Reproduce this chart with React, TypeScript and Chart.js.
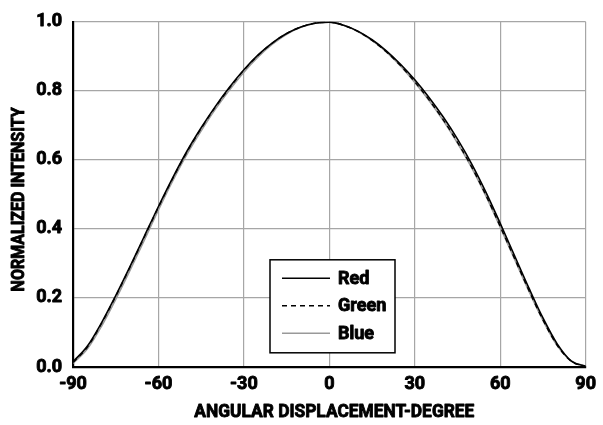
import React, { useEffect, useRef } from 'react';
import { Chart, registerables } from 'chart.js';

Chart.register(...registerables);

const FONT = "Roboto, 'Liberation Sans', sans-serif";
const WEIGHT = 'bold';

const angles = [
  -90, -85, -80, -75, -70, -65, -60, -55, -50, -45, -40, -35, -30, -25, -20, -15, -10, -5,
  0, 5, 10, 15, 20, 25, 30, 35, 40, 45, 50, 55, 60, 65, 70, 75, 80, 85, 90,
];

const red = [
  0.015, 0.06, 0.128, 0.207, 0.291, 0.378, 0.465, 0.548, 0.625, 0.693, 0.755, 0.811, 0.861, 0.904, 0.939, 0.966, 0.985, 0.996,
  0.999, 0.99, 0.973, 0.948, 0.916, 0.877, 0.832, 0.781, 0.724, 0.66, 0.588, 0.506, 0.416, 0.323, 0.23, 0.142, 0.067, 0.017, 0.002,
];

const green = [
  0.013, 0.057, 0.126, 0.205, 0.289, 0.376, 0.463, 0.546, 0.623, 0.691, 0.753, 0.809, 0.86, 0.903, 0.938, 0.966, 0.985, 0.996,
  0.999, 0.99, 0.972, 0.946, 0.913, 0.873, 0.826, 0.774, 0.716, 0.651, 0.579, 0.497, 0.407, 0.315, 0.223, 0.136, 0.063, 0.016, 0.002,
];

const blue = [
  0.011, 0.052, 0.118, 0.196, 0.28, 0.367, 0.455, 0.539, 0.616, 0.684, 0.747, 0.803, 0.854, 0.898, 0.935, 0.964, 0.984, 0.996,
  0.999, 0.99, 0.972, 0.946, 0.913, 0.872, 0.824, 0.772, 0.714, 0.649, 0.577, 0.495, 0.405, 0.313, 0.221, 0.135, 0.062, 0.017, 0.003,
];

const seriesLabels = ['Red', 'Green', 'Blue'];
const xTicks = [-90, -60, -30, 0, 30, 60, 90];
const yTicks = [0, 0.2, 0.4, 0.6, 0.8, 1.0];
const xTitle = 'ANGULAR DISPLACEMENT-DEGREE';
const yTitle = 'NORMALIZED INTENSITY';

// condensed widths and small shifts for the axis titles (the reference uses a condensed face)
const titleWidths: Record<string, number> = { [xTitle]: 280, [yTitle]: 184 };
const titleShift: Record<string, number> = { [xTitle]: 5, [yTitle]: -5 };

const toPoints = (vals: number[]) => vals.map((v, i) => ({ x: angles[i], y: v }));

// makes all text heavier (stroke on top of fill) and condenses the axis titles
const heavyText = {
  id: 'heavyText',
  beforeDraw(chart: any) {
    const ctx = chart.ctx;
    if (ctx.__origFillText) return;
    const orig = ctx.fillText;
    ctx.__origFillText = orig;
    ctx.fillText = function (text: string, x: number, y: number, mw?: number) {
      const lim = titleWidths[text];
      let w = mw;
      if (lim !== undefined) w = mw !== undefined ? Math.min(lim, mw) : lim;
      const dx = titleShift[text] || 0;
      const lw = this.lineWidth;
      const ss = this.strokeStyle;
      const dash = this.getLineDash();
      this.setLineDash([]);
      this.lineWidth = 0.9;
      this.strokeStyle = this.fillStyle;
      this.lineJoin = 'round';
      if (w !== undefined) {
        orig.call(this, text, x + dx, y, w);
        this.strokeText(text, x + dx, y, w);
      } else {
        orig.call(this, text, x + dx, y);
        this.strokeText(text, x + dx, y);
      }
      this.lineWidth = lw;
      this.strokeStyle = ss;
      this.setLineDash(dash);
    };
  },
  afterDraw(chart: any) {
    const ctx = chart.ctx;
    if (ctx.__origFillText) {
      ctx.fillText = ctx.__origFillText;
      delete ctx.__origFillText;
    }
  },
};

const boxLegend = {
  id: 'boxLegend',
  afterDraw(chart: any) {
    const { ctx, chartArea } = chart;
    const left = chartArea.left + 197;
    const top = chartArea.top + 238;
    const w = 125;
    const h = 93;
    ctx.save();
    ctx.fillStyle = '#ffffff';
    ctx.fillRect(left, top, w, h);
    ctx.strokeStyle = '#000000';
    ctx.lineWidth = 1.5;
    ctx.setLineDash([]);
    ctx.strokeRect(left, top, w, h);
    chart.data.datasets.forEach((ds: any, i: number) => {
      const y = top + 18.5 + i * 27.5;
      ctx.beginPath();
      ctx.setLineDash(ds.borderDash || []);
      ctx.strokeStyle = ds.borderColor;
      ctx.lineWidth = ds.borderWidth;
      ctx.moveTo(left + 12, y);
      ctx.lineTo(left + 60, y);
      ctx.stroke();
      ctx.setLineDash([]);
      ctx.fillStyle = '#000000';
      ctx.font = `${WEIGHT} 18px ${FONT}`;
      ctx.textBaseline = 'middle';
      ctx.textAlign = 'left';
      ctx.fillText(ds.label, left + 68, y + 1);
    });
    ctx.restore();
  },
};

export default function App() {
  const ref = useRef<HTMLCanvasElement | null>(null);

  useEffect(() => {
    if (!ref.current) return;
    const chart = new Chart(ref.current, {
      type: 'line',
      data: {
        datasets: [
          {
            label: seriesLabels[0],
            data: toPoints(red),
            borderColor: '#000000',
            borderWidth: 1.6,
            pointRadius: 0,
            cubicInterpolationMode: 'monotone',
            fill: false,
          },
          {
            label: seriesLabels[1],
            data: toPoints(green),
            borderColor: '#000000',
            borderWidth: 1.4,
            borderDash: [5, 4],
            pointRadius: 0,
            cubicInterpolationMode: 'monotone',
            fill: false,
          },
          {
            label: seriesLabels[2],
            data: toPoints(blue),
            borderColor: '#999999',
            borderWidth: 1.6,
            pointRadius: 0,
            cubicInterpolationMode: 'monotone',
            fill: false,
          },
        ],
      },
      options: {
        animation: false,
        responsive: false,
        devicePixelRatio: 1,
        layout: { padding: { top: 17, right: 14, bottom: 0, left: 0 } },
        plugins: {
          legend: { display: false },
          tooltip: { enabled: false },
        },
        scales: {
          x: {
            type: 'linear',
            min: -90,
            max: 90,
            afterBuildTicks: (scale: any) => {
              scale.ticks = xTicks.map((v) => ({ value: v }));
            },
            afterFit: (scale: any) => {
              scale.height = 58;
            },
            grid: { color: '#a6a6a6', lineWidth: 1.2, drawTicks: false },
            border: { color: '#000000', width: 2.2 },
            ticks: {
              color: '#000000',
              padding: 7,
              maxRotation: 0,
              font: { family: FONT, size: 18, weight: WEIGHT },
              callback: (v: any) => String(v),
            },
            title: {
              display: true,
              text: xTitle,
              color: '#000000',
              font: { family: FONT, size: 19, weight: WEIGHT },
              padding: { top: 0, bottom: 1 },
            },
          },
          y: {
            type: 'linear',
            min: 0,
            max: 1,
            afterBuildTicks: (scale: any) => {
              scale.ticks = yTicks.map((v) => ({ value: v }));
            },
            afterFit: (scale: any) => {
              scale.width = 73;
            },
            grid: { color: '#a6a6a6', lineWidth: 1.2, drawTicks: false },
            border: { color: '#000000', width: 2.2 },
            ticks: {
              color: '#000000',
              padding: 11,
              font: { family: FONT, size: 18, weight: WEIGHT },
              callback: (v: any) => Number(v).toFixed(1),
            },
            title: {
              display: true,
              text: yTitle,
              color: '#000000',
              font: { family: FONT, size: 18, weight: WEIGHT },
              padding: { top: 9, bottom: 0 },
            },
          },
        },
      },
      plugins: [boxLegend, heavyText],
    } as any);
    return () => chart.destroy();
  }, []);

  return (
    <div style={{ position: 'fixed', left: 0, top: 0, width: 603, height: 425, background: '#ffffff' }}>
      <canvas ref={ref} width={603} height={425} style={{ width: 603, height: 425, display: 'block' }} />
    </div>
  );
}
